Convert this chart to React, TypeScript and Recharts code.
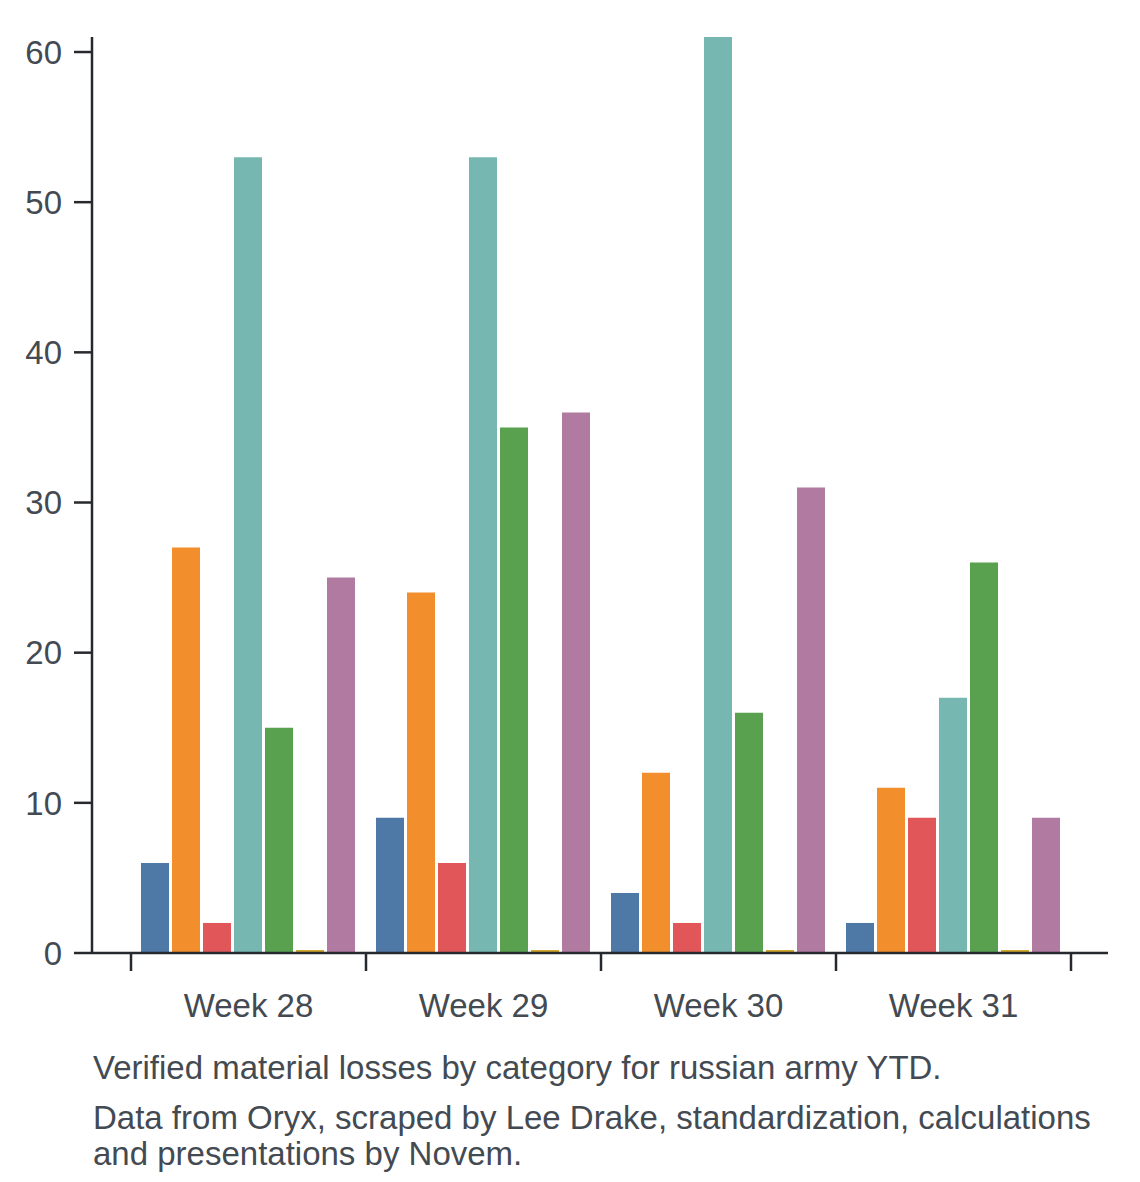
import React from "react";
import { BarChart, Bar, XAxis, YAxis } from "recharts";

const WEEKS = ["Week 28", "Week 29", "Week 30", "Week 31"];
const SERIES_KEYS = ["s1", "s2", "s3", "s4", "s5", "s6", "s7"];
const SERIES_COLORS = ["#4e79a7", "#f28e2b", "#e15759", "#76b7b2", "#59a14f", "#d4a82c", "#b07aa1"];
const S1 = [6, 9, 4, 2];
const S2 = [27, 24, 12, 11];
const S3 = [2, 6, 2, 9];
const S4 = [53, 53, 61, 17];
const S5 = [15, 35, 16, 26];
const S6 = [0, 0, 0, 0];
const S7 = [25, 36, 31, 9];
const Y_TICKS = [0, 10, 20, 30, 40, 50, 60];

const SERIES = [S1, S2, S3, S4, S5, S6, S7];
const DATA = WEEKS.map((week, i) => {
    const row: Record<string, string | number> = { week };
    SERIES_KEYS.forEach((k, j) => (row[k] = SERIES[j][i]));
    return row;
});

const AXIS = "#262a2e";
const TEXT = "#444a52";

// label at band centre, tick lines at band edges
function WeekTick(props: any) {
    const { x, y, payload, index, visibleTicksCount } = props;
    const half = payload && payload.offset ? payload.offset : 117.5;
    return (
        <g>
            <line x1={x - half} x2={x - half} y1={y} y2={y + 18} stroke={AXIS} strokeWidth={2.5} />
            {index === visibleTicksCount - 1 && (
                <line x1={x + half} x2={x + half} y1={y} y2={y + 18} stroke={AXIS} strokeWidth={2.5} />
            )}
            <text x={x} y={y + 64} textAnchor="middle" fill={TEXT} fontSize={33}>
                {payload.value}
            </text>
        </g>
    );
}

export default function App() {
    return (
        <div style={{ position: "absolute", left: 0, top: 0, width: 1140, height: 1182, fontFamily: "'Liberation Sans', Arial, sans-serif" }}>
            <BarChart
                width={1140}
                height={1040}
                data={DATA}
                margin={{ top: 37, right: 32, left: 0, bottom: 0 }}
                barCategoryGap={10}
                barGap={3}
            >
                <XAxis
                    dataKey="week"
                    height={87}
                    padding={{ left: 39, right: 37 }}
                    tickLine={false}
                    tickSize={0}
                    tickMargin={0}
                    tick={<WeekTick />}
                    interval={0}
                    axisLine={{ stroke: AXIS, strokeWidth: 2.5 }}
                />
                <YAxis
                    width={92}
                    domain={[0, 61]}
                    ticks={Y_TICKS}
                    tickSize={18}
                    tickMargin={12}
                    tick={{ fontSize: 33, fill: TEXT }}
                    tickLine={{ stroke: AXIS, strokeWidth: 2.5 }}
                    axisLine={{ stroke: AXIS, strokeWidth: 2.5 }}
                />
                {SERIES_KEYS.map((k, j) => (
                    <Bar key={k} dataKey={k} fill={SERIES_COLORS[j]} minPointSize={3} isAnimationActive={false} />
                ))}
            </BarChart>
            <div style={{ position: "absolute", left: 93, top: 1050, width: 1020, fontSize: 33, lineHeight: "36px", color: TEXT }}>
                <div>Verified material losses by category for russian army YTD.</div>
                <div style={{ marginTop: 14 }}>
                    Data from Oryx, scraped by Lee Drake, standardization, calculations and presentations by Novem.
                </div>
            </div>
        </div>
    );
}
